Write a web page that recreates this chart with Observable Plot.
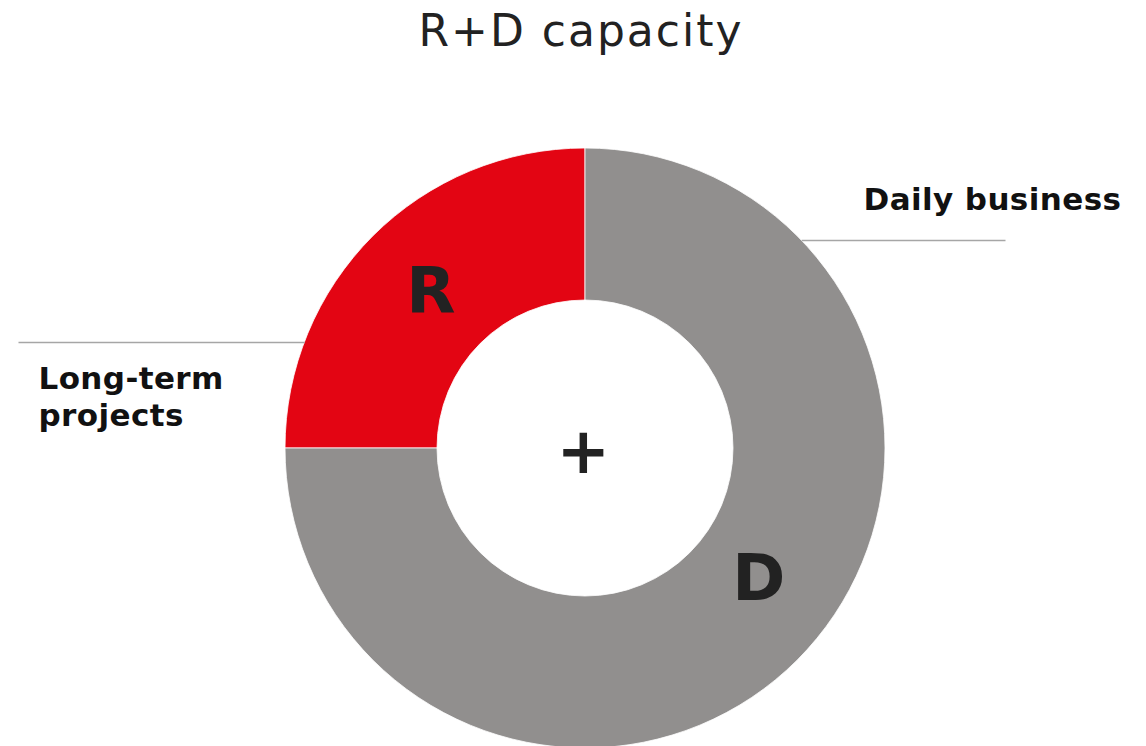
<!DOCTYPE html>
<html><head><meta charset="utf-8">
<script src="https://cdn.jsdelivr.net/npm/d3@7"></script>
<script src="https://cdn.jsdelivr.net/npm/@observablehq/plot@0.6"></script>
<style>
body{margin:0;background:#fff;font-family:"DejaVu Sans",Verdana,sans-serif;overflow:hidden;}
#title{height:62px;text-align:center;font-size:44px;color:#222;line-height:62px;padding-left:16px;white-space:nowrap;letter-spacing:2px;}
</style></head><body>
<div id="title">R+D capacity</div>
<div id="chart"></div>
<script>
// data
const segments = ["R", "D"];
const shares = [25, 75];
const segmentColors = ["#e30513", "#918f8e"];
const centerSymbol = "+";
const calloutTexts = ["Daily business", "Long-term\nprojects"];

// layout (px relative to donut centre, y up)
const outerR = 300, innerR = 148;
const W = 1146, H = 684, cx = 585, cy = 386;

const pie = d3.pie().sort(null).startAngle(-Math.PI / 2).endAngle(1.5 * Math.PI);
const arcs = pie(shares).map((a, i) => ({...a, name: segments[i], color: segmentColors[i]}));
const arcGen = d3.arc().innerRadius(innerR).outerRadius(outerR);
const letterData = arcs.map(a => {
  const [px, py] = arcGen.centroid(a);
  return {name: a.name, x: px, y: -py};
});

const callouts = [
  {text: calloutTexts[0], lineY: 208, side: 1, lineEnd: 420, tx: 278, ty: 264},
  {text: calloutTexts[1], lineY: 106, side: -1, lineEnd: -567, tx: -547, ty: 85}
].map(d => ({...d, x1: d.side * Math.sqrt(outerR * outerR - d.lineY * d.lineY)}));

function donut(index, scales) {
  const x0 = scales.x(0), y0 = scales.y(0);
  const k = Math.abs(scales.x(1) - scales.x(0));
  const g = d3.create("svg:g").attr("transform", `translate(${x0},${y0})`);
  const a = d3.arc().innerRadius(innerR * k).outerRadius(outerR * k);
  g.selectAll("path").data(arcs).join("path")
    .attr("d", a).attr("fill", d => d.color)
    .attr("stroke", "#fff").attr("stroke-width", 0.8);
  return g.node();
}

const font = "DejaVu Sans, Verdana, sans-serif";
const chart = Plot.plot({
  width: W, height: H,
  margin: 0,
  x: {domain: [-cx, W - cx], axis: null},
  y: {domain: [-(H - cy), cy], axis: null},
  style: {fontFamily: font, background: "#fff", overflow: "visible", letterSpacing: "0.4px"},
  marks: [
    donut,
    Plot.link(callouts, {x1: "x1", y1: "lineY", x2: "lineEnd", y2: "lineY", stroke: "#a6a6a6", strokeWidth: 1.5}),
    Plot.text(callouts, {x: "tx", y: "ty", text: "text", textAnchor: "start", lineAnchor: "top", lineHeight: 1.18,
      fontSize: 31, fontWeight: "bold", fill: "#111", fontFamily: font}),
    Plot.text(letterData.filter(d => d.name === "R"), {x: "x", y: "y", text: "name", fontSize: 64, fontWeight: "bold",
      fill: "#222", fontFamily: font, lineAnchor: "middle", dx: 4, dy: 2}),
    Plot.text(letterData.filter(d => d.name === "D"), {x: "x", y: "y", text: "name", fontSize: 64, fontWeight: "bold",
      fill: "#222", fontFamily: font, lineAnchor: "middle", dx: 15, dy: -27}),
    Plot.text([centerSymbol], {x: 0, y: 0, text: d => d, fontSize: 64, fontWeight: "bold",
      fill: "#222", fontFamily: font, lineAnchor: "middle", dx: -2, dy: 4})
  ]
});
document.getElementById("chart").appendChild(chart);
</script>
</body></html>
